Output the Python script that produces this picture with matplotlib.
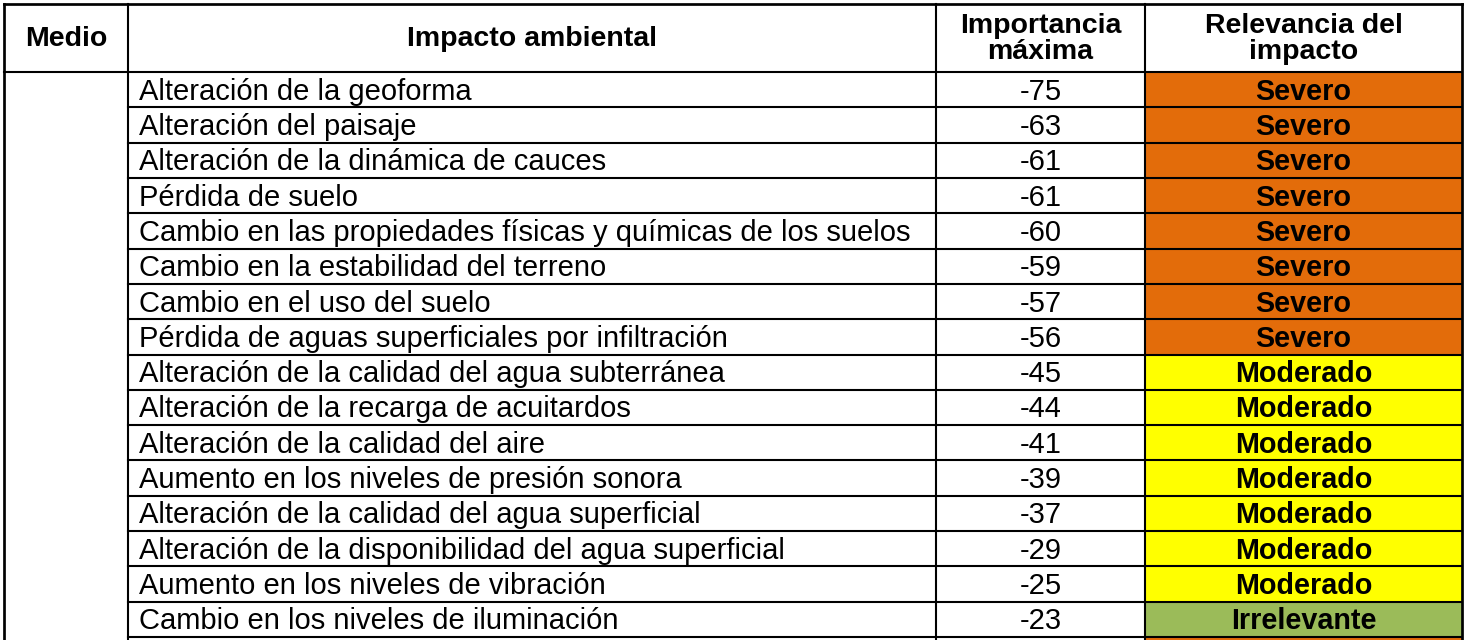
import matplotlib
matplotlib.use("Agg")
import matplotlib.pyplot as plt
from matplotlib.patches import Rectangle

headers = ["Medio", "Impacto ambiental", "Importancia\nmáxima", "Relevancia del\nimpacto"]
impacts = ["Alteración de la geoforma", "Alteración del paisaje", "Alteración de la dinámica de cauces",
           "Pérdida de suelo", "Cambio en las propiedades físicas y químicas de los suelos",
           "Cambio en la estabilidad del terreno", "Cambio en el uso del suelo",
           "Pérdida de aguas superficiales por infiltración", "Alteración de la calidad del agua subterránea",
           "Alteración de la recarga de acuitardos", "Alteración de la calidad del aire",
           "Aumento en los niveles de presión sonora", "Alteración de la calidad del agua superficial",
           "Alteración de la disponibilidad del agua superficial", "Aumento en los niveles de vibración",
           "Cambio en los niveles de iluminación"]
importance = [-75, -63, -61, -61, -60, -59, -57, -56, -45, -44, -41, -39, -37, -29, -25, -23]
relevance = ["Severo"] * 8 + ["Moderado"] * 7 + ["Irrelevante"]
rel_colors = {"Severo": "#E36C0A", "Moderado": "#FFFF00", "Irrelevante": "#9BBB59"}

plt.rcParams['font.family'] = ['Liberation Sans', 'DejaVu Sans']
fig = plt.figure(figsize=(14.68, 6.4), dpi=100)
ax = fig.add_axes([0, 0, 1, 1])
ax.set_xlim(0, 1468); ax.set_ylim(640, 0); ax.axis('off')

xs = [4, 128, 936, 1145, 1462]
y0, hb = 4, 72
rh = (637 - hb) / len(impacts)
lw = 1.5

# header
for i, h in enumerate(headers):
    ax.text((xs[i] + xs[i + 1]) / 2, (y0 + hb) / 2 + 1, h, ha='center', va='center',
            fontsize=20.5, fontweight='bold', linespacing=1.0)
for i, (imp, val, rel) in enumerate(zip(impacts, importance, relevance)):
    top = hb + i * rh
    ax.add_patch(Rectangle((xs[3], top), xs[4] - xs[3], rh, facecolor=rel_colors[rel], edgecolor='none'))
    cy = top + rh / 2 + 2
    ax.text(xs[1] + 11, cy, imp, ha='left', va='center', fontsize=21)
    ax.text((xs[2] + xs[3]) / 2, cy, str(val), ha='center', va='center', fontsize=21)
    ax.text((xs[3] + xs[4]) / 2, cy, rel, ha='center', va='center', fontsize=20.7, fontweight='bold')
    ax.plot([xs[1], xs[4]], [top + rh, top + rh], color='black', lw=lw)
# next row start
ax.add_patch(Rectangle((xs[3], 637), xs[4] - xs[3], 5, facecolor="#E36C0A", edgecolor='none'))
ax.plot([xs[0], xs[4]], [y0, y0], color='black', lw=lw * 1.3)
ax.plot([xs[0], xs[4]], [hb, hb], color='black', lw=lw)
for x in xs:
    ax.plot([x, x], [y0, 640], color='black', lw=lw * (1.3 if x in (xs[0], xs[4]) else 1))
fig.savefig("out.png", dpi=100)
